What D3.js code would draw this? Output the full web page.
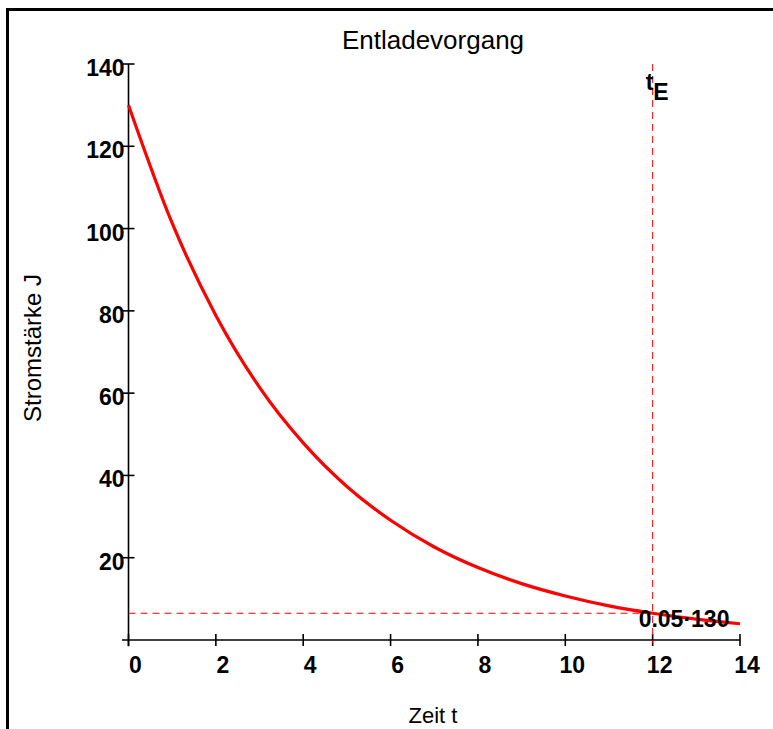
<!DOCTYPE html>
<html>
<head>
<meta charset="utf-8">
<script src="https://cdn.jsdelivr.net/npm/d3@7"></script>
<style>
  body { margin: 0; background: #fff; }
  svg { display: block; }
  text { font-family: Arial, "Liberation Sans", Helvetica, sans-serif; fill: #000; }
  .tick-label { font-weight: bold; font-size: 23px; }
</style>
</head>
<body>
<div id="graph"></div>
<script>
'use strict';

// values
const zeit = [0, 1, 2, 3, 4, 5, 6, 7, 8, 9, 10, 11, 12, 13, 14];
const strom = [130, 101.3, 78.9, 61.4, 47.9, 37.3, 29.1, 22.6, 17.6, 13.7, 10.7, 8.3, 6.5, 5.06, 3.94];
const xTicks = [0, 2, 4, 6, 8, 10, 12, 14];
const yTicks = [20, 40, 60, 80, 100, 120, 140];
const tE = 12;
const jE = 6.5;
const jLabel = '0.05\u00b7130';
const title = 'Entladevorgang';
const xTitle = 'Zeit t';
const yTitle = 'Stromst\u00e4rke J';

const measurements = { width: 773, height: 729 };

const svg = d3.select('#graph')
    .append('svg')
    .attr('width', measurements.width)
    .attr('height', measurements.height);

// frame (right and bottom edges are outside the picture)
svg.append('rect')
    .attr('x', 7.5)
    .attr('y', 9.5)
    .attr('width', 800)
    .attr('height', 800)
    .attr('fill', 'none')
    .attr('stroke', '#000')
    .attr('stroke-width', 3);

const xScale = d3.scaleLinear().domain([0, 14]).range([128.5, 740]);
const yScale = d3.scaleLinear().domain([0, 140]).range([640, 64]);

// axes
const axes = svg.append('g').attr('stroke', '#000').attr('stroke-width', 1.6);
axes.append('line')
    .attr('x1', xScale(-0.15)).attr('x2', xScale(14))
    .attr('y1', yScale(0)).attr('y2', yScale(0));
axes.append('line')
    .attr('x1', xScale(0)).attr('x2', xScale(0))
    .attr('y1', yScale(140)).attr('y2', yScale(-1.5));

axes.selectAll('.xt')
    .data(xTicks)
    .enter()
    .append('line')
    .attr('x1', d => xScale(d)).attr('x2', d => xScale(d))
    .attr('y1', yScale(0) - 6).attr('y2', yScale(0) + 6);

axes.selectAll('.yt')
    .data(yTicks)
    .enter()
    .append('line')
    .attr('x1', xScale(0) - 6).attr('x2', xScale(0) + 6)
    .attr('y1', d => yScale(d)).attr('y2', d => yScale(d));

svg.selectAll('.xl')
    .data(xTicks)
    .enter()
    .append('text')
    .attr('class', 'tick-label')
    .attr('x', d => xScale(d) + 7)
    .attr('y', yScale(0) + 33)
    .attr('text-anchor', 'middle')
    .text(d => d);

svg.selectAll('.yl')
    .data(yTicks)
    .enter()
    .append('text')
    .attr('class', 'tick-label')
    .attr('x', xScale(0) - 4)
    .attr('y', d => yScale(d) + 12)
    .attr('text-anchor', 'end')
    .text(d => d);

// dashed guide lines
const guides = svg.append('g')
    .attr('stroke', '#ff0000')
    .attr('stroke-width', 1)
    .attr('stroke-dasharray', '7,5')
    .attr('fill', 'none');
guides.append('line')
    .attr('x1', xScale(tE)).attr('x2', xScale(tE))
    .attr('y1', yScale(140)).attr('y2', yScale(-0.8));
guides.append('line')
    .attr('x1', xScale(0)).attr('x2', xScale(tE))
    .attr('y1', yScale(jE)).attr('y2', yScale(jE));

// discharge curve
const line = d3.line()
    .x((d, i) => xScale(zeit[i]))
    .y(d => yScale(d))
    .curve(d3.curveMonotoneX);

svg.append('path')
    .datum(strom)
    .attr('d', line)
    .attr('fill', 'none')
    .attr('stroke', '#ff0000')
    .attr('stroke-width', 3.2);

// annotations
const tLabel = svg.append('text')
    .attr('class', 'tick-label')
    .attr('x', xScale(tE) - 7)
    .attr('y', 90);
tLabel.append('tspan').text('t');
tLabel.append('tspan').attr('dy', 10).text('E');

svg.append('text')
    .attr('class', 'tick-label')
    .attr('x', xScale(tE) - 14)
    .attr('y', yScale(jE) + 14)
    .text(jLabel);

// titles
svg.append('text')
    .attr('x', 433)
    .attr('y', 49)
    .attr('text-anchor', 'middle')
    .style('font-size', '26px')
    .text(title);

svg.append('text')
    .attr('x', 433)
    .attr('y', 723)
    .attr('text-anchor', 'middle')
    .style('font-size', '22px')
    .text(xTitle);

svg.append('text')
    .attr('transform', 'translate(41, 348)rotate(-90)')
    .attr('text-anchor', 'middle')
    .style('font-size', '24px')
    .text(yTitle);
</script>
</body>
</html>
